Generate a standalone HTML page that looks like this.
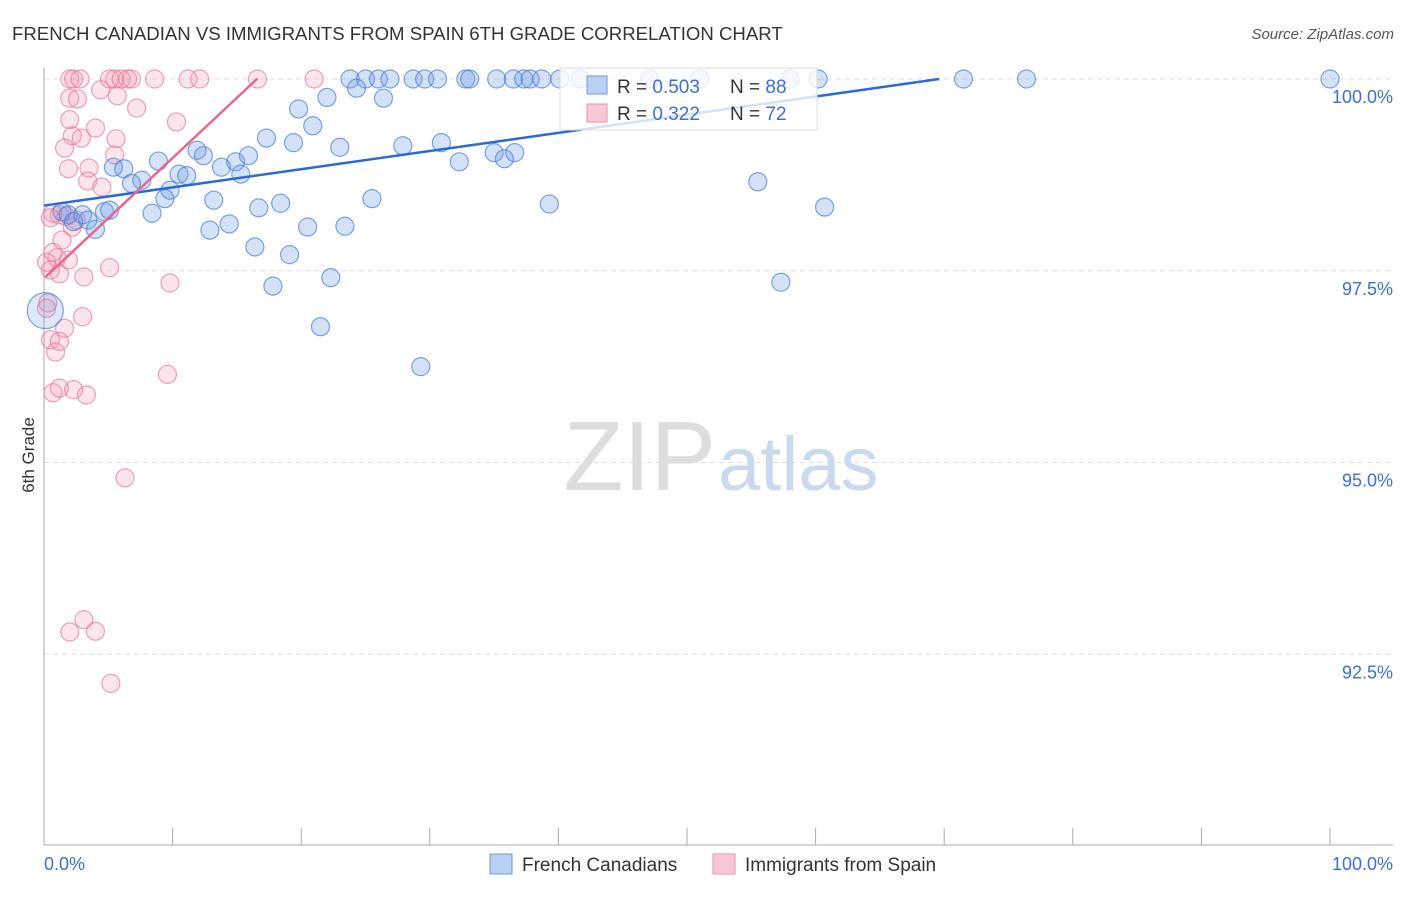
<!DOCTYPE html>
<html><head><meta charset="utf-8"><style>
body{margin:0;background:#fff;font-family:"Liberation Sans",sans-serif;}
svg text{font-family:"Liberation Sans",sans-serif;}
</style></head><body>
<svg id="chart" width="1406" height="892">
<text x="12" y="40" font-size="18.6" fill="#333">FRENCH CANADIAN VS IMMIGRANTS FROM SPAIN 6TH GRADE CORRELATION CHART</text>
<text x="1394" y="39" font-size="15" fill="#555" font-style="italic" text-anchor="end">Source: ZipAtlas.com</text>
<text x="34" y="455" font-size="17" fill="#333" transform="rotate(-90 34 455)" text-anchor="middle">6th Grade</text>
<g id="grid"></g>
<text x="716" y="490" font-size="98" fill="#ddd" text-anchor="end" font-family="Liberation Serif">ZIP</text>
<text x="718" y="490" font-size="76" fill="#c9daf0">atlas</text>
<g id="marks"></g>
<g id="legend">
<rect x="560" y="68" width="257" height="62" fill="#fff" stroke="#ddd" fill-opacity="0.8"/>
<rect x="587" y="76" width="20" height="18" fill="#b8d0f2" stroke="#6a9ae0"/>
<text x="617" y="93" font-size="19" fill="#333">R = <tspan fill="#3b6fd4">0.503</tspan></text>
<text x="730" y="93" font-size="19" fill="#333">N = <tspan fill="#3b6fd4">88</tspan></text>
<rect x="587" y="104" width="20" height="18" fill="#f9c8d6" stroke="#ee8fab"/>
<text x="617" y="120" font-size="19" fill="#333">R =  <tspan fill="#3b6fd4">0.322</tspan></text>
<text x="730" y="120" font-size="19" fill="#333">N = <tspan fill="#3b6fd4">72</tspan></text>
</g>
<rect x="490" y="854" width="22" height="20" fill="#b8d0f2" stroke="#6a9ae0"/>
<text x="522" y="871" font-size="19" fill="#333">French Canadians</text>
<rect x="713" y="854" width="22" height="20" fill="#f9c8d6" stroke="#ee8fab"/>
<text x="745" y="871" font-size="19" fill="#333">Immigrants from Spain</text>
</svg>
<script>
const yTicks=[100,97.5,95,92.5];
const yTickLabels=["100.0%","97.5%","95.0%","92.5%"];
const xTickLabels=["0.0%","100.0%"];
const blueX=[23.8,25.0,26.0,26.9,28.7,29.6,30.6,32.8,33.1,35.2,36.5,37.3,37.8,38.7,40.1,41.7,47.1,51.0,58.0,60.2,71.5,76.4,100,
24.3,26.4,22.0,19.8,20.9,17.3,19.4,23.0,27.9,30.9,32.3,35.0,35.8,36.6,8.9,11.9,12.4,14.9,15.9,13.8,5.4,6.2,7.6,6.8,10.5,11.1,15.3,9.8,9.4,8.4,13.2,16.7,18.4,25.5,39.3,55.5,60.7,12.9,14.4,20.5,23.4,16.4,19.1,1.4,1.9,3.0,3.4,4.0,4.7,5.1,2.3,17.8,22.3,21.5,29.3,57.3];
const blueY=[100,100,100,100,100,100,100,100,100,100,100,100,100,100,100,100,100,100,100,100,100,100,100,
99.88,99.75,99.76,99.61,99.39,99.23,99.17,99.11,99.13,99.17,98.92,99.04,98.96,99.04,98.93,99.07,99.0,98.92,99.0,98.85,98.85,98.83,98.68,98.64,98.76,98.74,98.76,98.55,98.44,98.25,98.42,98.32,98.38,98.44,98.37,98.66,98.33,98.03,98.11,98.07,98.08,97.81,97.71,98.27,98.23,98.23,98.16,98.04,98.27,98.29,98.14,97.30,97.41,96.77,96.25,97.35];
const pinkX=[2.0,2.3,2.8,5.1,5.5,6.0,6.5,6.8,8.6,11.2,12.1,16.6,21.0,
2.0,2.6,4.4,5.7,7.2,10.3,4.0,2.0,2.2,2.9,5.6,5.5,1.6,3.5,3.4,4.5,1.9,2.5,0.7,1.2,1.7,0.5,2.2,1.4,0.7,1.0,1.9,0.2,0.5,1.2,3.1,5.1,9.8,3.0,1.6,0.3,0.5,0.9,1.2,9.6,0.7,1.2,2.3,3.3,6.3,3.1,2.0,4.0,5.2,0.2];
const pinkY=[100,100,100,100,100,100,100,100,100,100,100,100,100,
99.75,99.74,99.86,99.78,99.62,99.44,99.36,99.47,99.26,99.23,99.22,99.01,99.10,98.84,98.67,98.59,98.83,98.16,98.25,98.23,98.21,98.19,98.07,97.90,97.74,97.67,97.64,97.61,97.51,97.46,97.42,97.54,97.34,96.90,96.75,97.08,96.60,96.44,96.58,96.15,95.91,95.97,95.95,95.88,94.80,92.95,92.79,92.80,92.12,97.01];
const blueTrend=[98.35,0.0237,69.6];
const pinkTrend=[97.40,0.157,16.6];
const NS="http://www.w3.org/2000/svg";
const xs=v=>44+v*12.86, ys=v=>79+(100-v)*76.7;
function mk(t,a,p){const e=document.createElementNS(NS,t);for(const k in a)e.setAttribute(k,a[k]);p.appendChild(e);return e;}
const grid=document.getElementById('grid'),marks=document.getElementById('marks');
yTicks.forEach((t,i)=>{
 const l=mk('line',{x1:44,x2:1393,y1:ys(t),y2:ys(t),stroke:'#ddd','stroke-dasharray':'5,4'},grid);
 
 
 const tx=mk('text',{x:1393,y:ys(t)+24,'text-anchor':'end','font-size':18,fill:'#3b6fd4'},grid);
 tx.textContent=yTickLabels[i];
 
 
});
const ax=mk('line',{x1:44,x2:1393,y1:845,y2:845,stroke:'#aaa'},grid);


const ay=mk('line',{x1:44,x2:44,y1:68,y2:845,stroke:'#aaa'},grid);


for(let i=0;i<=10;i++){const t=mk('line',{x1:xs(i*10),x2:xs(i*10),y1:828,y2:845,stroke:'#aaa'},grid);
 
 }
[[0,'start',44],[100,'end',1393]].forEach((d,i)=>{const t=mk('text',{x:d[2],y:870,'text-anchor':d[1],'font-size':18,fill:'#3b6fd4'},grid);t.textContent=xTickLabels[i];
 
 });
pinkX.forEach((x,i)=>{const c=mk('circle',{cx:xs(x),cy:ys(pinkY[i]),r:9,fill:'rgba(240,140,170,0.22)',stroke:'rgba(232,120,155,0.7)','stroke-width':1.2},marks);
 
 });
blueX.forEach((x,i)=>{const c=mk('circle',{cx:xs(x),cy:ys(blueY[i]),r:9,fill:'rgba(100,150,230,0.28)',stroke:'rgba(70,125,215,0.7)','stroke-width':1.2},marks);
 
 });
const big=mk('circle',{cx:xs(0.1),cy:ys(96.98),r:18,fill:'rgba(100,150,230,0.22)',stroke:'rgba(70,125,215,0.7)','stroke-width':1.2},marks);


const bt=mk('line',{x1:xs(0),y1:ys(blueTrend[0]),x2:xs(blueTrend[2]),y2:ys(blueTrend[0]+blueTrend[1]*blueTrend[2]),stroke:'#2a6ad4','stroke-width':2.5},marks);


const pt=mk('line',{x1:xs(0.1),y1:ys(pinkTrend[0]+pinkTrend[1]*0.1),x2:xs(pinkTrend[2]),y2:ys(pinkTrend[0]+pinkTrend[1]*pinkTrend[2]),stroke:'#e8668f','stroke-width':2.5},marks);


document.getElementById('chart').appendChild(document.getElementById('legend'));
</script>
</body></html>
